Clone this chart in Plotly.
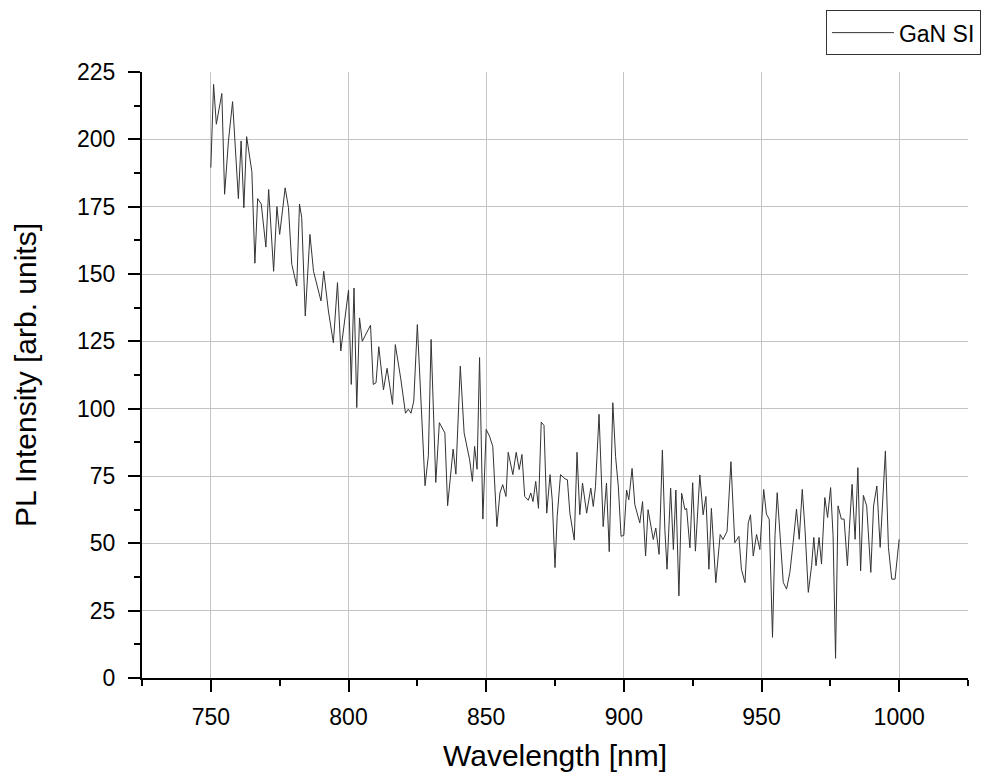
import plotly.graph_objects as go

# ---- data ----
wavelength_nm = [
    750, 751, 752, 754, 755, 756.4, 757.9, 760, 761, 762, 763, 764.9, 766, 767, 768.3,
    770, 771, 772.8, 774, 775, 777, 778.2, 779.4, 781.2, 782.2, 783, 784.3, 786, 787.3,
    790, 791, 792.7, 794.5, 796, 797.2, 800, 801, 802, 803, 804, 805, 808, 809, 810,
    811, 812.7, 814, 816, 817, 819, 820.7, 821.7, 822.7, 823.7, 825, 826.5, 827.8, 829,
    830, 831.7, 833, 835, 836, 838, 839, 840.6, 842, 844, 845, 845.8, 846.7, 847.6,
    848.8, 850, 851.2, 852.4, 853.9, 855, 856, 857.2, 858, 859.7, 860.9, 862, 863, 864,
    865.3, 866.2, 867, 868, 869, 870, 871, 872, 873.2, 874, 875, 875.8, 877, 878.6,
    879.5, 880.4, 882, 883, 884, 885, 886.5, 888, 888.9, 889.7, 891, 892.5, 893.7,
    894.7, 896, 897, 898, 899, 900, 901, 901.8, 903, 904, 905.8, 906.8, 907.9, 908.8,
    910.7, 911.6, 912.8, 914, 914.9, 915.7, 917, 918, 918.9, 920, 921, 922.2, 922.8,
    924, 925, 926, 927.6, 928.8, 929.8, 930.9, 931.8, 933.4, 935, 936, 937.5, 938.9,
    940.3, 941.8, 942.7, 944, 945.2, 946, 947, 948.2, 949.4, 950.8, 951.8, 952.8, 954,
    954.9, 955.7, 956.7, 957.9, 959.1, 960.3, 961.5, 962.7, 963.7, 964.8, 965.8, 967,
    968.2, 969, 969.8, 970.9, 971.8, 973, 974, 975.1, 976, 976.9, 977.8, 979, 980,
    981.2, 981.9, 982.9, 984, 985, 986, 987, 988.2, 989.7, 990.7, 991.9, 993.1, 995,
    996.1, 997.3, 998.5, 1000,
]
pl_intensity = [
    189.5, 220.4, 205.6, 217, 179.6, 199.4, 214, 178, 199.4, 174.6, 201, 188, 154, 178, 176,
    160, 181.4, 151, 175, 164.7, 182, 174.6, 153.6, 145.5, 176, 171, 134.4, 164.7, 151,
    140, 151, 136.3, 124.5, 146.8, 121.4, 144, 109, 144.8, 100.4, 133.7, 125, 131, 109, 109.6,
    123, 107, 115, 101.6, 123.8, 111, 98.3, 99.8, 98.3, 102.8, 131.2, 96, 71.4, 82.5,
    125.7, 72.6, 94.8, 91, 64, 85, 75.7, 115.8, 91, 81, 73, 86, 77.5, 119,
    59, 92.3, 89.8, 86, 56.2, 68.7, 71.8, 67.4, 83.8, 75.5, 83.8, 77.4, 83, 67.4,
    66, 68.7, 65.5, 73, 63, 95, 93.8, 61.2, 75.5, 66, 41, 60, 75.5, 74,
    73.6, 61.2, 51.2, 83.8, 60.6, 72.4, 61.2, 70.5, 63.7, 71, 97.9, 56.2, 72.4,
    46.9, 102.2, 82.3, 71, 52.6, 53, 69.8, 66.2, 77.8, 64.3, 57.6, 65.5, 45.3, 62.5,
    51.4, 55.7, 45.9, 84.6, 55, 40.4, 70.5, 47.7, 69.8, 30.5, 68.6, 62.5, 63,
    48.3, 72.5, 47.1, 75.4, 60.6, 67.4, 40.4, 63, 35.4, 53.3, 51.4, 54.5, 80.3,
    50.2, 52.6, 40.4, 35.4, 57.6, 60.6, 45.3, 53.3, 47.7, 70, 60.8, 59, 15.1,
    52.8, 68.8, 52.8, 35.5, 33, 39.2, 50.3, 62.7, 51.5, 70, 55.2, 31.8,
    41.7, 52.2, 41.7, 52.2, 42.3, 67, 59.6, 70.7, 52.8, 7.3, 63.9, 59, 59,
    41.7, 55.2, 71.9, 51.5, 78.1, 39.8, 67.8, 63.9, 39.2, 63.9, 71.3, 48.5, 84.3,
    48.5, 36.7, 36.7, 51.5,
]
series_name = "GaN SI"
x_tick_values = [750, 800, 850, 900, 950, 1000]
y_tick_values = [0, 25, 50, 75, 100, 125, 150, 175, 200, 225]
y_grid_values = [25, 50, 75, 100, 125, 150, 175, 200]

FONT = "Liberation Sans, Arial, sans-serif"
GRID = "#c4c4c4"

fig = go.Figure()
fig.add_trace(go.Scatter(
    x=wavelength_nm, y=pl_intensity, mode="lines", name=series_name,
    line=dict(color="#333333", width=1),
))
# helper trace so the grid-only overlay axis is drawn
fig.add_trace(go.Scatter(x=[None], y=[None], yaxis="y2", showlegend=False,
                         hoverinfo="skip", mode="lines"))

fig.update_layout(
    width=1003, height=776,
    margin=dict(l=142, r=35, t=72, b=98, autoexpand=False),
    paper_bgcolor="white", plot_bgcolor="white",
    font=dict(family=FONT, color="black"),
    showlegend=True,
    legend=dict(
        x=0.828, y=1.102, xanchor="left", yanchor="top",
        bgcolor="white", bordercolor="#333333", borderwidth=1,
        font=dict(family=FONT, size=23, color="black"),
        itemwidth=62,
    ),
    xaxis=dict(
        range=[725, 1025], tickmode="array", tickvals=x_tick_values,
        ticks="outside", ticklen=12, tickwidth=2, tickcolor="black",
        showline=True, linecolor="black", linewidth=2,
        showgrid=True, gridcolor=GRID, gridwidth=1, zeroline=False,
        minor=dict(ticks="outside", ticklen=6, tickwidth=2, tickcolor="black",
                   tickmode="linear", tick0=725, dtick=25, showgrid=False),
        tickfont=dict(family=FONT, size=23, color="black"),
        ticklabelstandoff=5,
        title=dict(text="Wavelength [nm]", font=dict(family=FONT, size=30, color="black"),
                   standoff=16),
        automargin=False,
    ),
    yaxis=dict(
        range=[0, 225], tickmode="array", tickvals=y_tick_values,
        ticks="outside", ticklen=12, tickwidth=2, tickcolor="black",
        showline=True, linecolor="black", linewidth=2,
        showgrid=False, zeroline=False,
        minor=dict(ticks="outside", ticklen=6, tickwidth=2, tickcolor="black",
                   tickmode="linear", tick0=0, dtick=12.5, showgrid=False),
        tickfont=dict(family=FONT, size=23, color="black"),
        ticklabelstandoff=8,
        title=dict(text="PL Intensity [arb. units]", font=dict(family=FONT, size=30, color="black"),
                   standoff=32),
        automargin=False,
    ),
    yaxis2=dict(
        overlaying="y", side="left", range=[0, 225], tickmode="array",
        tickvals=y_grid_values, showticklabels=False, ticks="",
        showgrid=True, gridcolor=GRID, gridwidth=1, showline=False, zeroline=False,
        automargin=False,
    ),
)

fig.write_html("out.html")
